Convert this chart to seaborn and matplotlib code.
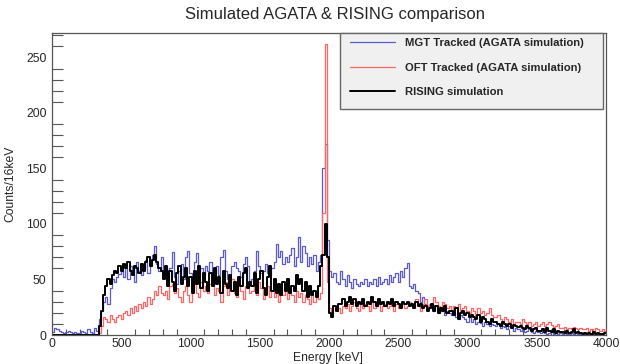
import numpy as np
import pandas as pd
import matplotlib
matplotlib.use("Agg")
import matplotlib.pyplot as plt
import seaborn as sns
from matplotlib.ticker import MultipleLocator
from matplotlib.patches import Rectangle

sns.set_theme(style="white")
plt.rcParams['font.family'] = ['Liberation Sans', 'DejaVu Sans']

title = "Simulated AGATA & RISING comparison"
xlabel = "Energy [keV]"
ylabel = "Counts/16keV"
series_names = ["MGT Tracked (AGATA simulation)",
                "OFT Tracked (AGATA simulation)",
                "RISING simulation"]
bin_width = 16
e_min, e_max = 0, 4000

# counts per 16 keV bin, 250 bins from 0 to 4000 keV (10 bins per row)
mgt_counts = [
    3, 6, 5, 4, 3, 2, 3, 4, 3, 2,
    3, 2, 2, 4, 3, 2, 5, 3, 2, 6,
    4, 14, 22, 30, 34, 28, 42, 50, 48, 52,
    55, 58, 52, 60, 50, 62, 55, 48, 66, 58,
    54, 60, 68, 56, 62, 72, 80, 64, 58, 70,
    56, 62, 48, 60, 75, 52, 46, 58, 64, 50,
    70, 76, 56, 48, 66, 74, 52, 60, 54, 62,
    58, 66, 50, 56, 62, 54, 70, 77, 58, 50,
    55, 62, 66, 60, 58, 52, 64, 70, 62, 48,
    50, 58, 76, 62, 56, 58, 64, 56, 54, 60,
    66, 82, 70, 76, 64, 70, 66, 72, 78, 62,
    70, 88, 66, 80, 74, 62, 70, 64, 72, 58,
    66, 72, 150, 172, 86, 58, 52, 56, 48, 46,
    58, 50, 44, 54, 48, 42, 50, 46, 44, 48,
    46, 50, 44, 48, 46, 50, 44, 52, 46, 48,
    50, 46, 54, 48, 52, 56, 48, 58, 52, 60,
    65, 44, 42, 46, 40, 38, 30, 34, 28, 26,
    24, 28, 22, 26, 20, 24, 22, 18, 22, 20,
    18, 20, 16, 14, 18, 16, 14, 12, 16, 12,
    14, 10, 12, 11, 8, 12, 10, 8, 10, 9,
    8, 10, 6, 8, 7, 5, 8, 6, 4, 6,
    5, 4, 6, 3, 4, 5, 3, 2, 4, 3,
    2, 3, 2, 1, 2, 3, 1, 2, 1, 2,
    1, 2, 1, 1, 2, 1, 0, 1, 1, 2,
    1, 0, 1, 1, 0, 1, 1, 0, 1, 0,
]

oft_counts = [
    0, 0, 0, 0, 0, 0, 0, 0, 0, 0,
    0, 0, 0, 0, 0, 0, 0, 0, 0, 0,
    0, 2, 8, 16, 14, 12, 18, 14, 12, 16,
    18, 14, 20, 22, 18, 24, 20, 26, 22, 28,
    24, 30, 26, 34, 28, 32, 40, 36, 44, 38,
    36, 40, 32, 44, 46, 38, 42, 34, 30, 40,
    44, 36, 30, 42, 46, 38, 34, 48, 40, 44,
    38, 46, 50, 36, 42, 40, 30, 44, 48, 36,
    42, 50, 38, 34, 46, 40, 32, 44, 48, 38,
    40, 44, 36, 48, 42, 32, 38, 44, 34, 40,
    34, 38, 30, 42, 36, 40, 32, 38, 36, 30,
    40, 34, 38, 30, 36, 32, 28, 36, 30, 34,
    32, 38, 110, 262, 48, 24, 20, 26, 22, 24,
    20, 26, 24, 28, 22, 26, 30, 24, 22, 28,
    24, 28, 26, 22, 30, 24, 26, 28, 22, 26,
    28, 24, 26, 30, 22, 28, 24, 26, 30, 24,
    26, 30, 28, 24, 32, 26, 22, 28, 32, 26,
    28, 24, 34, 30, 26, 22, 30, 28, 24, 26,
    22, 26, 24, 28, 20, 24, 26, 22, 20, 24,
    22, 18, 24, 20, 22, 18, 20, 24, 18, 16,
    16, 18, 14, 12, 16, 14, 12, 14, 10, 12,
    12, 10, 14, 12, 10, 12, 8, 10, 12, 8,
    10, 12, 8, 10, 12, 9, 7, 8, 10, 6,
    6, 7, 5, 6, 5, 7, 6, 5, 6, 5,
    5, 6, 4, 5, 4, 6, 5, 4, 5, 4,
]

rising_counts = [
    0, 0, 0, 0, 0, 0, 0, 0, 0, 0,
    0, 0, 0, 0, 0, 0, 0, 0, 0, 0,
    0, 8, 22, 36, 44, 50, 46, 54, 58, 56,
    62, 58, 64, 60, 66, 58, 54, 62, 60, 56,
    64, 58, 66, 70, 62, 68, 72, 66, 60, 58,
    50, 62, 44, 58, 48, 40, 56, 62, 46, 52,
    60, 44, 52, 38, 58, 46, 62, 42, 56, 48,
    40, 56, 44, 60, 46, 52, 38, 58, 46, 42,
    54, 40, 48, 36, 52, 44, 56, 60, 42, 48,
    44, 56, 38, 50, 58, 42, 36, 52, 62, 40,
    50, 38, 46, 36, 48, 40, 50, 38, 44, 40,
    54, 46, 50, 40, 48, 34, 44, 36, 40, 34,
    44, 62, 72, 100, 70, 20, 16, 26, 22, 28,
    28, 32, 26, 30, 34, 28, 32, 26, 30, 28,
    32, 26, 30, 28, 34, 30, 26, 32, 28, 30,
    26, 30, 28, 32, 26, 30, 28, 24, 30, 28,
    30, 26, 28, 24, 30, 26, 28, 24, 26, 22,
    24, 28, 22, 26, 20, 24, 22, 26, 20, 22,
    22, 18, 24, 14, 20, 22, 18, 20, 16, 18,
    16, 14, 18, 12, 16, 14, 12, 10, 14, 12,
    12, 10, 8, 12, 10, 8, 10, 6, 9, 8,
    7, 8, 6, 5, 8, 6, 4, 5, 6, 4,
    4, 5, 3, 6, 4, 3, 5, 2, 4, 3,
    3, 2, 4, 2, 3, 5, 2, 3, 2, 1,
    2, 1, 2, 1, 3, 1, 2, 1, 1, 2,
]

colors = ["#5a5acd", "#ff6666", "#000000"]
widths = [0.9, 0.9, 1.4]

n_bins = (e_max - e_min) // bin_width
centers = e_min + bin_width * (np.arange(n_bins) + 0.5)

frames = []
for name, counts in zip(series_names, [mgt_counts, oft_counts, rising_counts]):
    frames.append(pd.DataFrame({"energy": centers, "counts": np.asarray(counts, float),
                                "series": name}))
df = pd.concat(frames, ignore_index=True)

W, H = 620, 364
fig = plt.figure(figsize=(W / 100, H / 100), dpi=100)
ax = fig.add_axes([52 / W, 29 / H, 554 / W, 302 / H])

for name, col, lw in zip(series_names, colors, widths):
    sub = df[df["series"] == name].reset_index(drop=True)
    sns.histplot(data=sub, x="energy", weights="counts", binwidth=bin_width,
                 binrange=(e_min, e_max),
                 element="step", fill=False, color=col, linewidth=lw,
                 ax=ax, label=name)

ax.set_xlim(e_min, e_max)
ax.set_ylim(0, 272)
ax.set_xlabel("")
ax.set_ylabel("")
fig.text(328 / W, 1 - 358 / H, xlabel, fontsize=8.7, ha="center", va="center")
fig.text(10 / W, 1 - 184 / H, ylabel, fontsize=8.7, ha="center", va="center",
         rotation=90)
fig.text(335 / W, 1 - 15 / H, title, fontsize=12, ha="center", va="center")

ax.xaxis.set_major_locator(MultipleLocator(500))
ax.xaxis.set_minor_locator(MultipleLocator(100))
ax.yaxis.set_major_locator(MultipleLocator(50))
ax.yaxis.set_minor_locator(MultipleLocator(10))
ax.tick_params(axis="x", which="major", direction="in", length=9, width=0.8,
               color="#555555", labelsize=8.7, pad=2)
ax.tick_params(axis="x", which="minor", direction="in", length=4.5, width=0.8,
               color="#555555", bottom=True)
ax.tick_params(axis="y", which="major", direction="in", length=16, width=0.8,
               color="#555555", labelsize=8.7, pad=4)
ax.tick_params(axis="y", which="minor", direction="in", length=8, width=0.8,
               color="#555555", left=True)
for sp in ax.spines.values():
    sp.set_color("#555555")
    sp.set_linewidth(0.9)

# legend box (ROOT-style)
box = Rectangle((0.52, 0.748), 0.475, 0.252, transform=ax.transAxes,
                facecolor="#f0f0f0", edgecolor="#666666", linewidth=1.0,
                zorder=4, clip_on=False)
ax.add_patch(box)
leg = ax.legend(loc="upper left",
                bbox_to_anchor=((350 - 52) / 554, (335 - 38) / 302),
                frameon=False, prop={"weight": "bold", "size": 8.1},
                handlelength=4.0, handletextpad=0.9, labelspacing=1.29,
                borderpad=0, borderaxespad=0)
leg.set_zorder(5)

fig.savefig("out.png", dpi=100, facecolor="white")
